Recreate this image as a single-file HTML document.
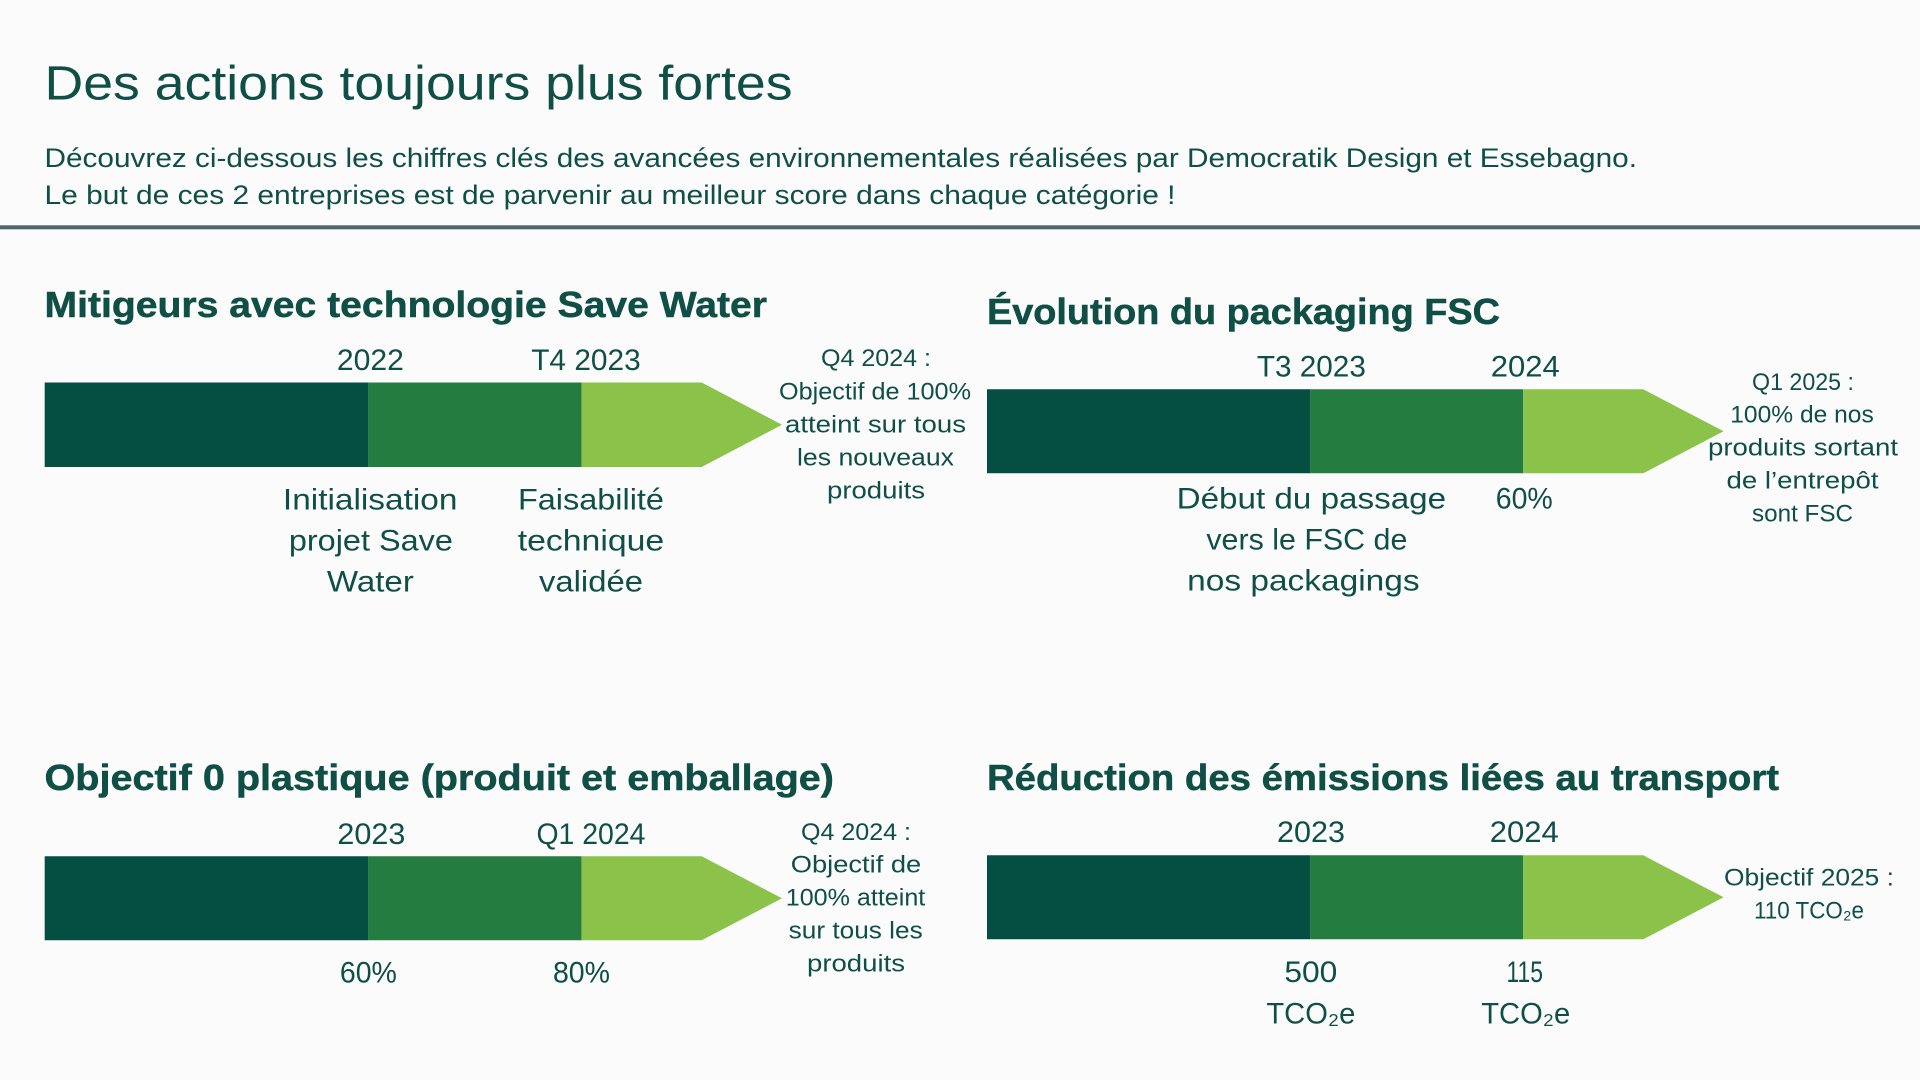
<!DOCTYPE html>
<html lang="fr">
<head>
<meta charset="utf-8">
<title>Des actions toujours plus fortes</title>
<style>
html,body{margin:0;padding:0;background:#fbfbfb;}
body{width:1920px;height:1080px;overflow:hidden;}
svg{display:block;}
text{font-family:"Liberation Sans",sans-serif;fill:#0f4f45;}
.title{font-size:48px;}
.sub{font-size:26.5px;}
.head{font-size:36px;font-weight:700;stroke:#0f4f45;stroke-width:0.5px;}
.goal{font-size:24.5px;text-anchor:middle;}
.mile{font-size:30px;text-anchor:middle;}
</style>
</head>
<body>
<svg id="stage" xmlns="http://www.w3.org/2000/svg" width="1920" height="1080" viewBox="0 0 1920 1080">
  <rect x="0" y="0" width="1920" height="1080" fill="#fbfbfb"/>
  <text class="title" x="44.5" y="99.5" textLength="748" lengthAdjust="spacingAndGlyphs">Des actions toujours plus fortes</text>
  <text class="sub" x="44.5" y="167" textLength="1592.5" lengthAdjust="spacingAndGlyphs">Découvrez ci-dessous les chiffres clés des avancées environnementales réalisées par Democratik Design et Essebagno.</text>
  <text class="sub" x="44.5" y="204" textLength="1131" lengthAdjust="spacingAndGlyphs">Le but de ces 2 entreprises est de parvenir au meilleur score dans chaque catégorie !</text>
  <rect x="0" y="225.3" width="1920" height="4" fill="#4f6570"/>

  <text class="head" x="44.5" y="317" textLength="722.5" lengthAdjust="spacingAndGlyphs">Mitigeurs avec technologie Save Water</text>
  <text class="head" x="987" y="324" textLength="513" lengthAdjust="spacingAndGlyphs">Évolution du packaging FSC</text>
  <text class="head" x="44.5" y="790" textLength="789.5" lengthAdjust="spacingAndGlyphs">Objectif 0 plastique (produit et emballage)</text>
  <text class="head" x="987" y="790" textLength="792" lengthAdjust="spacingAndGlyphs">Réduction des émissions liées au transport</text>

  <g>
    <text class="goal" x="876" y="366" textLength="110" lengthAdjust="spacingAndGlyphs">Q4 2024 :</text>
    <text class="goal" x="875" y="399.5" textLength="192" lengthAdjust="spacingAndGlyphs">Objectif de 100%</text>
    <text class="goal" x="875.5" y="432.5" textLength="181" lengthAdjust="spacingAndGlyphs">atteint sur tous</text>
    <text class="goal" x="875.5" y="465.5" textLength="157" lengthAdjust="spacingAndGlyphs">les nouveaux</text>
    <text class="goal" x="876" y="498.5" textLength="98" lengthAdjust="spacingAndGlyphs">produits</text>
  </g>
  <g>
    <text class="goal" x="1803" y="390" textLength="102" lengthAdjust="spacingAndGlyphs">Q1 2025 :</text>
    <text class="goal" x="1802" y="422.7" textLength="143.5" lengthAdjust="spacingAndGlyphs">100% de nos</text>
    <text class="goal" x="1803" y="455.7" textLength="190" lengthAdjust="spacingAndGlyphs">produits sortant</text>
    <text class="goal" x="1802.5" y="488.7" textLength="152" lengthAdjust="spacingAndGlyphs">de l’entrepôt</text>
    <text class="goal" x="1802.5" y="521.7" textLength="101" lengthAdjust="spacingAndGlyphs">sont FSC</text>
  </g>
  <g>
    <text class="goal" x="856" y="840" textLength="110" lengthAdjust="spacingAndGlyphs">Q4 2024 :</text>
    <text class="goal" x="856" y="872.7" textLength="130.5" lengthAdjust="spacingAndGlyphs">Objectif de</text>
    <text class="goal" x="855.5" y="905.7" textLength="139.5" lengthAdjust="spacingAndGlyphs">100% atteint</text>
    <text class="goal" x="855.7" y="938.7" textLength="134" lengthAdjust="spacingAndGlyphs">sur tous les</text>
    <text class="goal" x="856" y="971.7" textLength="98" lengthAdjust="spacingAndGlyphs">produits</text>
  </g>
  <g>
    <text class="goal" x="1809" y="885.3" textLength="170" lengthAdjust="spacingAndGlyphs">Objectif 2025 :</text>
    <text class="goal" x="1809" y="918.3" textLength="110" lengthAdjust="spacingAndGlyphs">110 TCO₂e</text>
  </g>
  <g id="charts"></g>
</svg>
<script>
// Milestones: share of the arrow's length (percent) reached at each date.
const waterMilestones = [43.9, 72.8];
const waterDates = ['2022', 'T4 2023'];
const waterStatus = [['Initialisation', 'projet Save', 'Water'], ['Faisabilité', 'technique', 'validée']];

const fscMilestones = [43.9, 72.8];
const fscDates = ['T3 2023', '2024'];
const fscStatus = [['Début du passage', 'vers le FSC de', 'nos packagings'], ['60%']];

const plasticMilestones = [43.9, 72.8];
const plasticDates = ['2023', 'Q1 2024'];
const plasticStatus = [['60%'], ['80%']];

const transportMilestones = [43.9, 72.8];
const transportDates = ['2023', '2024'];
const transportStatus = [['500', 'TCO₂e'], ['115', 'TCO₂e']];

// Where the arrow head begins, on the same 0-100 axis.
const arrowShoulder = 89.1;

// Layout only: rendered width of each label in px.
const labelWidth = {
  '2022': 67, '2023': 68, '2024': 69, 'T4 2023': 109.5, 'T3 2023': 109, 'Q1 2024': 109,
  'Initialisation': 174.5, 'projet Save': 164, 'Water': 87,
  'Faisabilité': 146, 'technique': 146.5, 'validée': 104,
  'Début du passage': 269.5, 'vers le FSC de': 201, 'nos packagings': 232.5,
  '60%': 57, '80%': 57, '500': 53, '115': 36.5, 'TCO₂e': 89
};

const SVG_NS = 'http://www.w3.org/2000/svg';
const chartsLayer = document.getElementById('charts');
const segmentFills = ['#054e42', '#247c41', '#8bc34a'];

function axisX(frame, value) {
  return frame.left + value / 100 * frame.length;
}

function addLabel(parent, name, content, cx, baseline) {
  const t = document.createElementNS(SVG_NS, 'text');
  
  
  t.setAttribute('class', 'mile');
  t.setAttribute('x', cx);
  t.setAttribute('y', baseline);
  t.setAttribute('textLength', labelWidth[content] || 60);
  t.setAttribute('lengthAdjust', 'spacingAndGlyphs');
  t.textContent = content;
  parent.appendChild(t);
}

function drawTimeline(key, frame, milestones, dates, status) {
  const g = document.createElementNS(SVG_NS, 'g');
  
  
  chartsLayer.appendChild(g);

  const stops = [0].concat(milestones);
  const top = frame.top;
  const bottom = frame.top + frame.height;
  stops.forEach(function (start, i) {
    const x0 = axisX(frame, start);
    let points;
    if (i < milestones.length) {
      const x1 = axisX(frame, stops[i + 1]);
      points = [[x0, top], [x1, top], [x1, bottom], [x0, bottom]];
    } else {
      const xs = axisX(frame, arrowShoulder);
      const xt = axisX(frame, 100);
      points = [[x0, top], [xs, top], [xt, top + frame.height / 2], [xs, bottom], [x0, bottom]];
    }
    const p = document.createElementNS(SVG_NS, 'polygon');
    
    
    p.setAttribute('points', points.map(function (q) { return q.join(','); }).join(' '));
    p.setAttribute('fill', segmentFills[i]);
    g.appendChild(p);
  });

  dates.forEach(function (label, i) {
    addLabel(g, key + '-date-label', label, axisX(frame, milestones[i]) + frame.dateNudge[i], frame.dateBaseline);
  });
  status.forEach(function (lines, i) {
    lines.forEach(function (line, j) {
      const nudge = frame.statusNudge[i][j];
      addLabel(g, key + '-status-label', line, axisX(frame, milestones[i]) + nudge, frame.statusBaseline + j * frame.statusLeading);
    });
  });
}

drawTimeline('water',
  { left: 44.7, length: 737.3, top: 382.5, height: 84.5, dateBaseline: 370, statusBaseline: 509.5, statusLeading: 41,
    dateNudge: [2, 4.5], statusNudge: [[1.8, 2.5, 2], [9.5, 9.5, 9.5]] },
  waterMilestones, waterDates, waterStatus);

drawTimeline('fsc',
  { left: 987, length: 736.6, top: 389.3, height: 84, dateBaseline: 376.7, statusBaseline: 508.5, statusLeading: 41,
    dateNudge: [1, 2], statusNudge: [[1, -3.5, -7], [1]] },
  fscMilestones, fscDates, fscStatus);

drawTimeline('plastic',
  { left: 44.7, length: 737.3, top: 856.3, height: 84, dateBaseline: 844, statusBaseline: 982.3, statusLeading: 41,
    dateNudge: [3, 9.5], statusNudge: [[0], [0]] },
  plasticMilestones, plasticDates, plasticStatus);

drawTimeline('transport',
  { left: 987, length: 736.6, top: 855.3, height: 84, dateBaseline: 842, statusBaseline: 982, statusLeading: 41.6,
    dateNudge: [0.6, 1], statusNudge: [[0.5, 0.5], [1.5, 2.5]] },
  transportMilestones, transportDates, transportStatus);
</script>
</body>
</html>
